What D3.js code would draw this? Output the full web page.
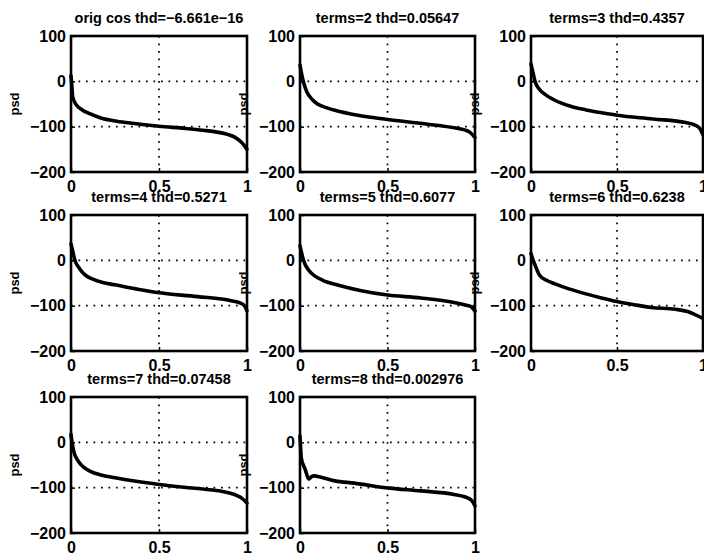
<!DOCTYPE html>
<html><head><meta charset="utf-8">
<script src="https://cdn.jsdelivr.net/npm/d3@7"></script>
<style>
html,body{margin:0;padding:0;background:#fff;}
text{font-family:"Liberation Sans",Arial,sans-serif;fill:#000;}
</style></head><body>
<svg id="chart" width="704" height="557"></svg>
<script>
// ---- data ----
const titles = [
  "orig cos thd=\u22126.661e\u221216", "terms=2 thd=0.05647", "terms=3 thd=0.4357",
  "terms=4 thd=0.5271", "terms=5 thd=0.6077", "terms=6 thd=0.6238",
  "terms=7 thd=0.07458", "terms=8 thd=0.002976"
];
const yLabel = "psd";
const xTicks = [0, 0.5, 1];
const yTicks = [-200, -100, 0, 100];
const xDomain = [0, 1];
const yDomain = [-200, 100];

const psd1 = [[0,12],[0.004,-5],[0.01,-35],[0.03,-52],[0.06,-62],[0.11,-72],[0.17,-81],[0.26,-88],[0.36,-93],[0.5,-99],[0.65,-104],[0.75,-108],[0.83,-112],[0.89,-117],[0.93,-123],[0.97,-135],[1,-150]];
const psd2 = [[0,36],[0.01,15],[0.023,-6],[0.04,-24],[0.07,-40],[0.1,-50],[0.15,-58],[0.2,-64],[0.33,-75],[0.5,-84],[0.72,-94],[0.89,-103],[0.94,-107],[0.97,-112],[1,-124]];
const psd3 = [[0,38],[0.01,22],[0.023,0],[0.05,-18],[0.09,-31],[0.13,-40],[0.23,-55],[0.32,-63],[0.42,-70],[0.5,-75],[0.71,-83],[0.9,-91],[0.95,-96],[0.98,-103],[1,-118]];
const psd4 = [[0,36],[0.01,20],[0.02,3],[0.05,-19],[0.08,-32],[0.12,-41],[0.18,-49],[0.25,-54],[0.37,-63],[0.49,-71],[0.72,-80],[0.91,-89],[0.96,-94],[0.985,-100],[1,-111]];
const psd5 = [[0,32],[0.01,15],[0.02,0],[0.05,-22],[0.09,-36],[0.13,-44],[0.22,-55],[0.35,-67],[0.49,-76],[0.69,-83],[0.88,-93],[0.95,-99],[0.98,-103],[1,-112]];
const psd6 = [[0,15],[0.01,3],[0.02,-7],[0.05,-33],[0.09,-44],[0.14,-52],[0.22,-63],[0.32,-74],[0.41,-83],[0.5,-91],[0.6,-98],[0.7,-104],[0.84,-108],[0.91,-113],[0.95,-119],[1,-128]];
const psd7 = [[0,18],[0.006,0],[0.015,-19],[0.04,-41],[0.07,-54],[0.11,-64],[0.17,-72],[0.25,-78],[0.37,-86],[0.5,-93],[0.72,-102],[0.84,-107],[0.9,-112],[0.94,-117],[0.97,-123],[1,-134]];
const psd8 = [[0,14],[0.003,-8],[0.007,-34],[0.03,-60],[0.05,-81],[0.065,-76],[0.08,-74],[0.12,-77],[0.2,-85],[0.31,-90],[0.51,-101],[0.69,-107],[0.88,-115],[0.94,-120],[0.98,-128],[1,-140]];
const series = [psd1, psd2, psd3, psd4, psd5, psd6, psd7, psd8];

// ---- layout ----
const colLeft = [71, 300, 531];
const colWidth = [176, 175, 172];
const rowTop = [36, 215, 397];
const panelH = 136;

const svg = d3.select("#chart");

series.forEach((data, i) => {
  const r = Math.floor(i / 3), c = i % 3;
  const left = colLeft[c], top = rowTop[r], w = colWidth[c];
  const x = d3.scaleLinear().domain(xDomain).range([0, w]);
  const y = d3.scaleLinear().domain(yDomain).range([panelH, 0]);
  const g = svg.append("g").attr("transform", `translate(${left},${top})`);

  // grid (dotted)
  g.selectAll(".gx").data(xTicks.filter(t => t > xDomain[0] && t < xDomain[1])).enter()
    .append("line").attr("x1", d => x(d)).attr("x2", d => x(d)).attr("y1", 0).attr("y2", panelH)
    .attr("stroke", "#000").attr("stroke-width", 1.7).attr("stroke-dasharray", "1.7,5.8");
  g.selectAll(".gy").data(yTicks.filter(t => t > yDomain[0] && t < yDomain[1])).enter()
    .append("line").attr("y1", d => y(d)).attr("y2", d => y(d)).attr("x1", 0).attr("x2", w)
    .attr("stroke", "#000").attr("stroke-width", 1.7).attr("stroke-dasharray", "1.7,5.8");

  // axes
  const ax = g.append("g").attr("transform", `translate(0,${panelH})`)
    .call(d3.axisBottom(x).tickValues(xTicks).tickFormat(d3.format("")).tickSize(4).tickPadding(5));
  const ay = g.append("g")
    .call(d3.axisLeft(y).tickValues(yTicks).tickFormat(d => d < 0 ? "\u2212" + Math.abs(d) : d).tickSize(4).tickPadding(1));
  [ax, ay].forEach(a => {
    a.select(".domain").remove();
    a.selectAll(".tick line").attr("stroke", "#000").attr("stroke-width", 1.5);
    a.selectAll("text").attr("font-size", 16).attr("font-weight", "bold")
      .attr("font-family", "'Liberation Sans', Arial, sans-serif");
  });
  ay.selectAll(".tick line").attr("x2", 4);
  ax.selectAll(".tick line").attr("y2", -4);

  // curve
  g.append("path").datum(data)
    .attr("d", d3.line().x(d => x(d[0])).y(d => y(d[1])).curve(d3.curveMonotoneX))
    .attr("fill", "none").attr("stroke", "#000").attr("stroke-width", 3.6)
    .attr("stroke-linejoin", "round").attr("stroke-linecap", "round");

  // box
  g.append("rect").attr("x", 0).attr("y", 0).attr("width", w).attr("height", panelH)
    .attr("fill", "none").attr("stroke", "#000").attr("stroke-width", 2.6);

  // title
  g.append("text").attr("x", w / 2).attr("y", -13).attr("text-anchor", "middle")
    .attr("font-size", 14.5).attr("font-weight", "bold").text(titles[i]);

  // y label
  g.append("text").attr("transform", `translate(-52,${panelH / 2}) rotate(-90)`)
    .attr("text-anchor", "middle").attr("font-size", 13).attr("font-weight", "bold").text(yLabel);
});
</script>
</body></html>
